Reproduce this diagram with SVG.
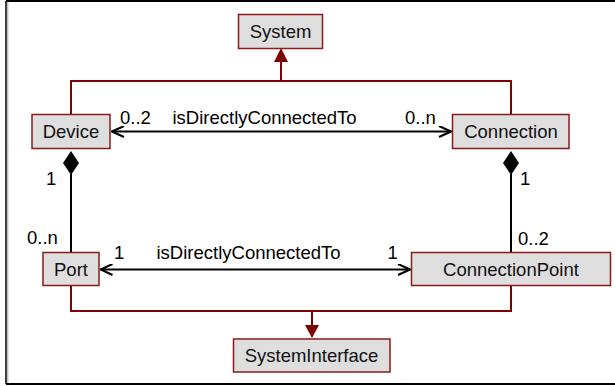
<svg xmlns="http://www.w3.org/2000/svg" width="615" height="386" viewBox="0 0 615 386">
  <defs>
    <style>
      .node rect { fill: #dedede; stroke: #8b1a1a; stroke-width: 1.5; }
      .node text { font-family: "Liberation Sans", Arial, sans-serif; font-size: 18.5px; fill: #111; text-anchor: middle; }
      .lbl { font-family: "Liberation Sans", Arial, sans-serif; font-size: 18.5px; fill: #000; }
      .gen { stroke: #7f0000; stroke-width: 2; fill: none; }
      .assoc { stroke: #000; stroke-width: 2; fill: none; }
      .head { fill: #7f0000; }
      .diamond { fill: #000; }
    </style>
    <!-- open navigability arrowhead, tip at refX -->
    <marker id="open" viewBox="0 0 14 12" refX="13" refY="6" markerWidth="14" markerHeight="12" markerUnits="userSpaceOnUse" orient="auto-start-reverse">
      <path d="M1,0.5 L13,6 L1,11.5" fill="none" stroke="#000" stroke-width="2"/>
    </marker>
  </defs>

  <!-- page frame -->
  <line x1="6" y1="1" x2="615" y2="1" stroke="#000" stroke-width="2"/>
  <line x1="6" y1="384" x2="615" y2="384" stroke="#000" stroke-width="2"/>
  <line x1="6" y1="1" x2="6" y2="384" stroke="#000" stroke-width="1.5"/>
  <line x1="7.8" y1="2" x2="7.8" y2="383" stroke="#aaa" stroke-width="1"/>

  <g id="connectors">
    <!-- generalization to System -->
    <polyline class="gen" points="71,114 71,81 511,81 511,114"/>
    <line class="gen" x1="281" y1="81" x2="281" y2="60"/>
    <polygon class="head" points="281,48 274,62 288,62"/>

    <!-- generalization to SystemInterface -->
    <polyline class="gen" points="71,286 71,311 511,311 511,286"/>
    <line class="gen" x1="312" y1="311" x2="312" y2="327"/>
    <polygon class="head" points="312,338 305,325 319,325"/>

    <!-- Device - Connection association -->
    <line class="assoc" x1="112" y1="131.5" x2="451" y2="131.5" marker-start="url(#open)" marker-end="url(#open)"/>
    <!-- Port - ConnectionPoint association -->
    <line class="assoc" x1="100.5" y1="269.5" x2="410" y2="269.5" marker-start="url(#open)" marker-end="url(#open)"/>

    <!-- composition Device - Port -->
    <line class="assoc" x1="71" y1="174" x2="71" y2="252"/>
    <polygon class="diamond" points="71,151 79,163 71,175 63,163"/>
    <!-- composition Connection - ConnectionPoint -->
    <line class="assoc" x1="511" y1="174" x2="511" y2="252"/>
    <polygon class="diamond" points="511,151 519,163 511,175 503,163"/>

    <!-- labels -->
    <text class="lbl" x="120" y="123.5">0..2</text>
    <text class="lbl" x="172.5" y="123.5">isDirectlyConnectedTo</text>
    <text class="lbl" x="405" y="123.5">0..n</text>
    <text class="lbl" x="46" y="185">1</text>
    <text class="lbl" x="520" y="185">1</text>
    <text class="lbl" x="27" y="243.5">0..n</text>
    <text class="lbl" x="518" y="245">0..2</text>
    <text class="lbl" x="114" y="258.5">1</text>
    <text class="lbl" x="156.5" y="258.5">isDirectlyConnectedTo</text>
    <text class="lbl" x="387.5" y="258.5">1</text>
  </g>

  <g id="System" class="node">
    <rect x="238.5" y="14.5" width="84" height="34"/>
    <text x="280.5" y="38">System</text>
  </g>
  <g id="Device" class="node">
    <rect x="32" y="114.5" width="78" height="34"/>
    <text x="71" y="138">Device</text>
  </g>
  <g id="Connection" class="node">
    <rect x="452.5" y="114.5" width="116.5" height="34"/>
    <text x="511" y="138">Connection</text>
  </g>
  <g id="Port" class="node">
    <rect x="43" y="252.5" width="56" height="33"/>
    <text x="71" y="275.5">Port</text>
  </g>
  <g id="ConnectionPoint" class="node">
    <rect x="411.5" y="252.5" width="199" height="33"/>
    <text x="511" y="275.5">ConnectionPoint</text>
  </g>
  <g id="SystemInterface" class="node">
    <rect x="233.5" y="339" width="156.5" height="33"/>
    <text x="311.5" y="362">SystemInterface</text>
  </g>
</svg>
